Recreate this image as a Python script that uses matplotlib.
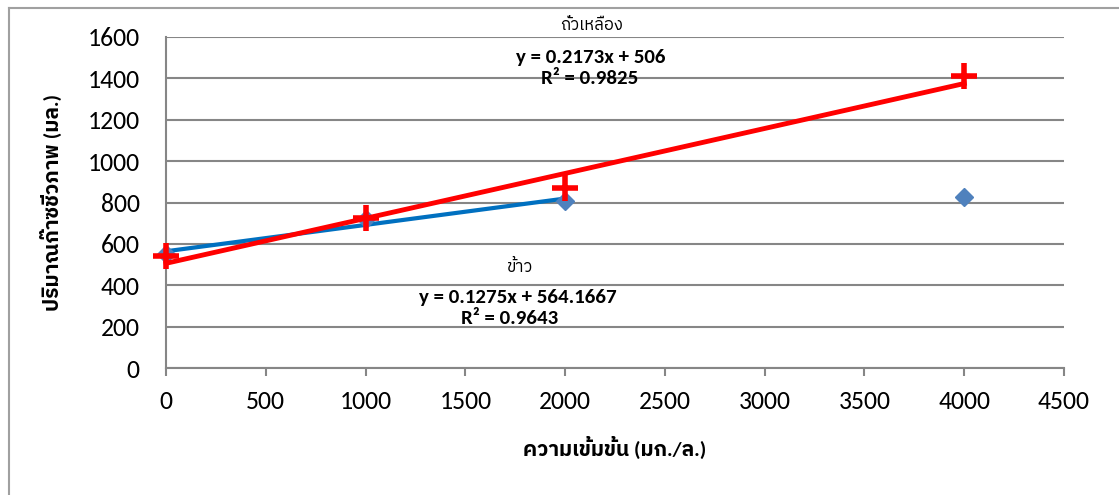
import matplotlib
matplotlib.use('Agg')
import numpy as np
import matplotlib.pyplot as plt
from matplotlib import font_manager
from matplotlib.lines import Line2D

# data
conc = [0, 1000, 2000, 4000]
rice = [550, 720, 805, 825]          # ข้าว
soy = [540, 725, 870, 1410]          # ถั่วเหลือง
rice_fit_x = [0, 1000, 2000]         # Excel trendline only over first 3 points
rice_eq = 'y = 0.1275x + 564.1667'
rice_r2 = 'R² = 0.9643'
soy_eq = 'y = 0.2173x + 506'
soy_r2 = 'R² = 0.9825'
yticks = [0, 200, 400, 600, 800, 1000, 1200, 1400, 1600]
xticks = [0, 500, 1000, 1500, 2000, 2500, 3000, 3500, 4000, 4500]

have = {f.name for f in font_manager.fontManager.ttflist}
fams = [f for f in ['Carlito', 'IBM Plex Sans Thai', 'Noto Sans Thai', 'Sarabun', 'DejaVu Sans'] if f in have]
plt.rcParams['font.family'] = fams

fig = plt.figure(figsize=(11.19, 4.95), dpi=100)
ax = fig.add_axes([166 / 1119, 1 - 368 / 495, (1064 - 166) / 1119, (368 - 37) / 495])

# outer chart border (only top and left visible)
fig.add_artist(Line2D([9 / 1119, 1], [1 - 8 / 495] * 2, color='#a0a0a0', lw=1.5, transform=fig.transFigure))
fig.add_artist(Line2D([9 / 1119] * 2, [0, 1 - 8 / 495], color='#a0a0a0', lw=1.5, transform=fig.transFigure))

# trendlines
b = np.polyfit(rice_fit_x, rice[:3], 1)
xs = np.array([rice_fit_x[0], rice_fit_x[-1]])
ax.plot(xs, np.polyval(b, xs), color='#0070C0', lw=3, zorder=3, clip_on=False)
r = np.polyfit(conc, soy, 1)
xs = np.array([conc[0], conc[-1]])
ax.plot(xs, np.polyval(r, xs), color='#FF0000', lw=3.5, zorder=4, clip_on=False)

ax.plot(conc, rice, ls='none', marker='D', ms=9, color='#4F81BD', zorder=3, clip_on=False)
ax.plot(conc, soy, ls='none', marker='+', ms=19, mew=4, color='#FF0000', zorder=5, clip_on=False)

ax.set_xlim(0, 4500)
ax.set_ylim(0, 1600)
ax.set_xticks(xticks)
ax.set_yticks(yticks)
tfs = 18.5
ax.tick_params(axis='x', length=6, width=1.5, color='#868686', labelsize=tfs, pad=10)
ax.tick_params(axis='y', length=0, labelsize=tfs, pad=19)
ax.grid(axis='y', color='#868686', lw=1.5)
ax.set_axisbelow(True)
for s in ['top', 'right']:
    ax.spines[s].set_visible(False)
for s in ['left', 'bottom']:
    ax.spines[s].set_color('#868686')
    ax.spines[s].set_linewidth(1.5)

ax.set_xlabel('ความเข้มข้น (มก./ล.)', fontsize=15, fontweight='bold', labelpad=16)
ax.set_ylabel('ปริมาณก๊าซชีวภาพ (มล.)', fontsize=15, fontweight='bold', labelpad=18)

efs = 15
fig.text(592 / 1119, 1 - 25 / 495, 'ถั่วเหลือง', fontsize=12, ha='center', va='center')
fig.text(591 / 1119, 1 - 57 / 495, soy_eq, fontsize=efs, fontweight='bold', ha='center', va='center')
fig.text(590 / 1119, 1 - 79 / 495, soy_r2, fontsize=efs, fontweight='bold', ha='center', va='center')
fig.text(520 / 1119, 1 - 267 / 495, 'ข้าว', fontsize=12, ha='center', va='center')
fig.text(518 / 1119, 1 - 297 / 495, rice_eq, fontsize=efs, fontweight='bold', ha='center', va='center')
fig.text(510 / 1119, 1 - 319 / 495, rice_r2, fontsize=efs, fontweight='bold', ha='center', va='center')

fig.savefig('out.png', dpi=100)
